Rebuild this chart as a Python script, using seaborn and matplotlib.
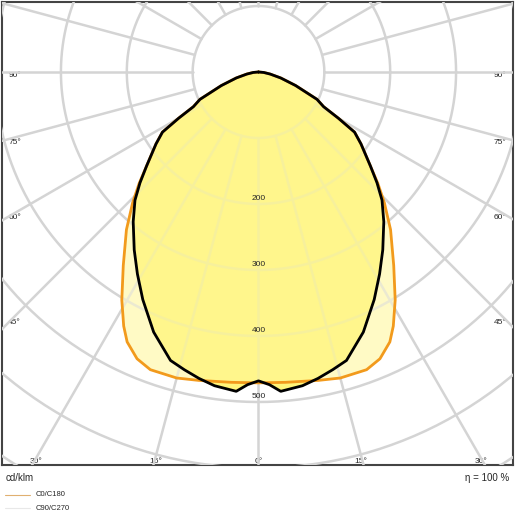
import numpy as np
import matplotlib
matplotlib.use("Agg")
import matplotlib.pyplot as plt
import seaborn as sns

# Luminous intensity (cd/klm) vs gamma angle (deg)
angles_c0 = [0, 5, 11, 15, 20, 23, 26, 28, 31, 35, 40, 44, 47, 50, 55, 58, 60, 62, 65, 70, 75, 80, 85, 90]
c0_c180 = [471, 472, 476, 480, 480, 472, 455, 436, 403, 358, 312, 275, 248, 222, 190, 172, 140, 112, 98, 60, 35, 18, 8, 0]
angles_c90 = [0, 2, 4, 8, 11, 14, 17, 22, 27, 31, 35, 40, 44, 47, 50, 55, 58, 60, 62, 65, 70, 75, 80, 85, 90]
c90_c270 = [468, 474, 485, 480, 473, 465, 457, 425, 387, 357, 329, 296, 270, 246, 222, 190, 172, 140, 112, 98, 60, 35, 18, 8, 0]
angle_labels_side = ["90°", "75°", "60°", "45°"]
angle_labels_bottom = ["30°", "15°", "0°", "15°", "30°"]
ring_labels = ["200", "300", "400", "500"]

sns.set_style("white")
plt.rcParams['font.family'] = ['Liberation Sans', 'DejaVu Sans']

def to_xy(ang, val):
    a = np.radians(np.concatenate([-np.array(ang[::-1]), np.array(ang[1:])]))
    r = np.concatenate([np.array(val[::-1]), np.array(val[1:])])
    return r * np.sin(a), -r * np.cos(a)

fig = plt.figure(figsize=(5.15, 5.15), dpi=100)
ax = fig.add_axes([0.004, 1 - 465 / 515, 0.992, 463 / 515])
s = 0.66
ax.set_xlim(-257 / s, 255 / s)
ax.set_ylim(-393 / s, 70 / s)
ax.set_aspect('auto')

# grid
t = np.linspace(0, 2 * np.pi, 400)
for R in range(100, 1300, 100):
    ax.plot(R * np.cos(t), R * np.sin(t), color='#d4d4d4', lw=1.8, zorder=4)
for d in range(0, 360, 15):
    a = np.radians(d)
    ax.plot([100 * np.sin(a), 1500 * np.sin(a)], [-100 * np.cos(a), -1500 * np.cos(a)],
            color='#d4d4d4', lw=1.8, zorder=4)

x0, y0 = to_xy(angles_c0, c0_c180)
x9, y9 = to_xy(angles_c90, c90_c270)
ax.fill(x0, y0, color='#fff9b8', zorder=2)
ax.fill(x9, y9, color='#fff57a', zorder=3)
ax.fill(x0, y0, color='#fffbd0', alpha=0.55, zorder=5, lw=0)
ax.fill(x9, y9, color='#fff57a', alpha=0.6, zorder=5, lw=0)
sns.lineplot(x=x0, y=y0, sort=False, estimator=None, color='#f29a1c', lw=2, ax=ax, zorder=6)
sns.lineplot(x=x9, y=y9, sort=False, estimator=None, color='black', lw=2, ax=ax, zorder=7)

fs = 6
for lab, R in zip(ring_labels, [200, 300, 400, 500]):
    ax.text(0, -R + 3, lab, ha='center', va='bottom', fontsize=fs, zorder=8)
side_y = [75, 142, 217, 322]
for lab, py in zip(angle_labels_side, side_y):
    yy = (72 - py) / s
    ax.text(0.012, yy, lab, transform=ax.get_yaxis_transform(), ha='left', va='center', fontsize=fs)
    ax.text(0.988, yy, lab, transform=ax.get_yaxis_transform(), ha='right', va='center', fontsize=fs)
for lab, px in zip(angle_labels_bottom, [35, 155, 258, 361, 481]):
    ax.text((px - 258) / s, (72 - 461) / s, lab, ha='center', va='center', fontsize=fs)

ax.set_xticks([]); ax.set_yticks([])
for sp in ax.spines.values():
    sp.set_visible(True); sp.set_color('#444444'); sp.set_linewidth(1.5)

fig.text(6 / 515, 1 - 478 / 515, "cd/klm", fontsize=7, va='center')
fig.text(1 - 6 / 515, 1 - 478 / 515, "η = 100 %", fontsize=7, va='center', ha='right')
fig.lines.append(plt.Line2D([5 / 515, 30 / 515], [1 - 495 / 515] * 2, color='#e0b070', lw=0.8, transform=fig.transFigure))
fig.lines.append(plt.Line2D([5 / 515, 30 / 515], [1 - 508 / 515] * 2, color='#e8e8e8', lw=0.8, transform=fig.transFigure))
fig.text(36 / 515, 1 - 495 / 515, "C0/C180", fontsize=5.5, va='center')
fig.text(36 / 515, 1 - 508 / 515, "C90/C270", fontsize=5.5, va='center')

fig.savefig("out.png", dpi=100)
